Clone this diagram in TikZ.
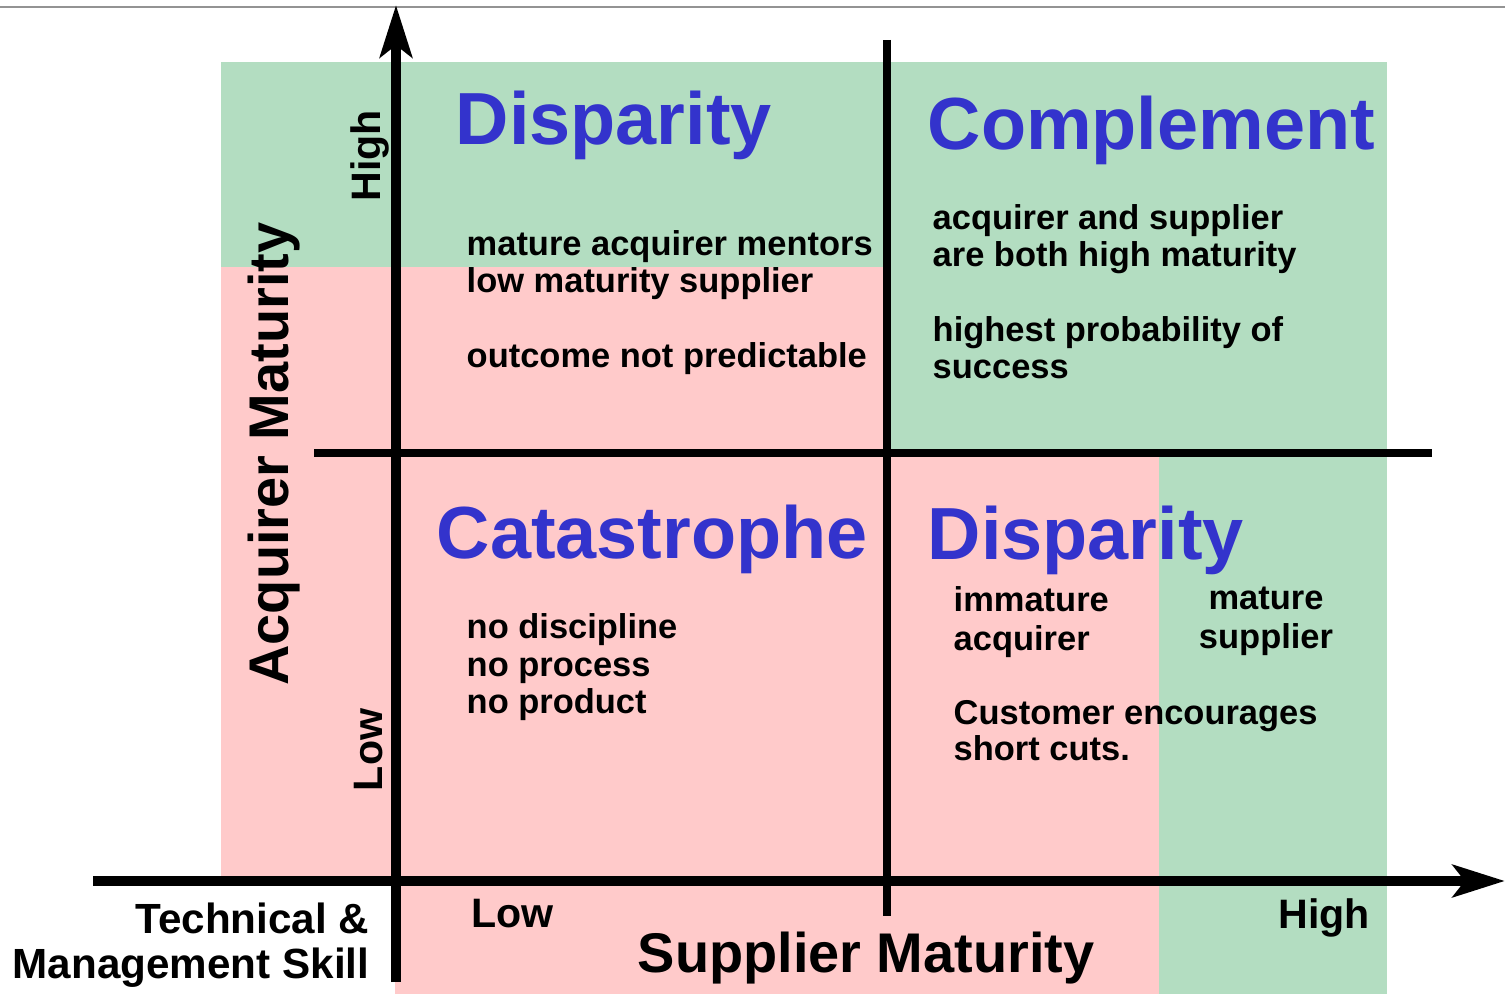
\documentclass[tikz,border=0pt]{standalone}
\usepackage{fontspec}
\setmainfont{Liberation Sans}
\usetikzlibrary{arrows.meta,positioning}
\definecolor{quadgreen}{HTML}{B3DDC1}
\definecolor{quadpink}{HTML}{FFCACA}
\definecolor{titleblue}{HTML}{3333CC}

\begin{document}
\begin{tikzpicture}[x=0.01cm, y=-0.01cm,
    title/.style={anchor=base west, inner sep=0, text=titleblue, font=\fontsize{21}{25}\selectfont\bfseries},
    body/.style={anchor=base west, inner sep=0, font=\fontsize{9.8}{10.5}\selectfont\bfseries},
    axislabel/.style={inner sep=0, font=\fontsize{15.9}{19}\selectfont\bfseries},
    ticklabel/.style={inner sep=0, font=\fontsize{11.7}{14}\selectfont\bfseries},
    skilllabel/.style={inner sep=0, anchor=base east, font=\fontsize{12}{14}\selectfont\bfseries},
    axis/.style={line width=2.85pt, -{Stealth[length=14.8pt, width=9.1pt, inset=3.4pt]}},
    divider/.style={line width=2pt}
]
\useasboundingbox (0,0) rectangle (1505,994);

\fill[quadpink] (221,267) rectangle (1159,880);
\fill[quadpink] (395,880) rectangle (1159,994);
\fill[quadgreen] (221,62) rectangle (887,267);
\fill[quadgreen] (887,62) rectangle (1387,453);
\fill[quadgreen] (1159,453) rectangle (1387,994);
\draw[gray!85, line width=0.6pt] (0,7) -- (1505,7);

\coordinate (xstart) at (93,881);
\coordinate (xend) at (1505,881);
\coordinate (ystart) at (396,982);
\coordinate (yend) at (396,5);
\coordinate (vtop) at (887,40);
\coordinate (vbot) at (887,916);
\coordinate (hleft) at (314,453);
\coordinate (hright) at (1432,453);

\draw[divider] (vtop) -- (vbot);
\draw[divider] (hleft) -- (hright);
\draw[axis] (xstart) -- (xend);
\draw[axis] (ystart) -- (yend);

\node[title] (disphigh) at (455,145) {Disparity};
\node[title] (complement) at (927,150) {Complement};
\node[title] (catastrophe) at (436,558) {Catastrophe};
\node[title] (displow) at (927,560) {Disparity};

\node[body] (dh1) at (466,256) {mature acquirer mentors};
\node[body] (dh2) at (466,293) {low maturity supplier};
\node[body] (dh3) at (466,368) {outcome not predictable};
\node[body] (comp1) at (932,230) {acquirer and supplier};
\node[body] (comp2) at (932,267) {are both high maturity};
\node[body] (comp3) at (932,342) {highest probability of};
\node[body] (comp4) at (932,379) {success};
\node[body] (cat1) at (466,639) {no discipline};
\node[body] (cat2) at (466,676) {no process};
\node[body] (cat3) at (466,713) {no product};
\node[body] (dl1) at (953,612) {immature};
\node[body] (dl2) at (953,650) {acquirer};
\node[body] (dl3) at (953,725) {Customer encourages};
\node[body] (dl4) at (953,761) {short cuts.};
\node[body, anchor=base] (sup1) at (1266,610) {mature};
\node[body, anchor=base] (sup2) at (1266,648) {supplier};

\node[axislabel, anchor=base, rotate=90] (acqlabel) at (288,454) {Acquirer Maturity};
\node[axislabel, anchor=base west] (suplabel) at (637,972) {Supplier Maturity};
\node[ticklabel, anchor=base, rotate=90] (yhigh) at (380,156) {High};
\node[ticklabel, anchor=base, rotate=90] (ylow) at (382,750) {Low};
\node[ticklabel, anchor=base west] (xlow) at (471,927) {Low};
\node[ticklabel, anchor=base west] (xhigh) at (1278,928) {High};
\node[skilllabel] (skill1) at (370,933) {Technical \&};
\node[skilllabel] (skill2) at (370,978) {Management Skill};

\end{tikzpicture}
\end{document}
